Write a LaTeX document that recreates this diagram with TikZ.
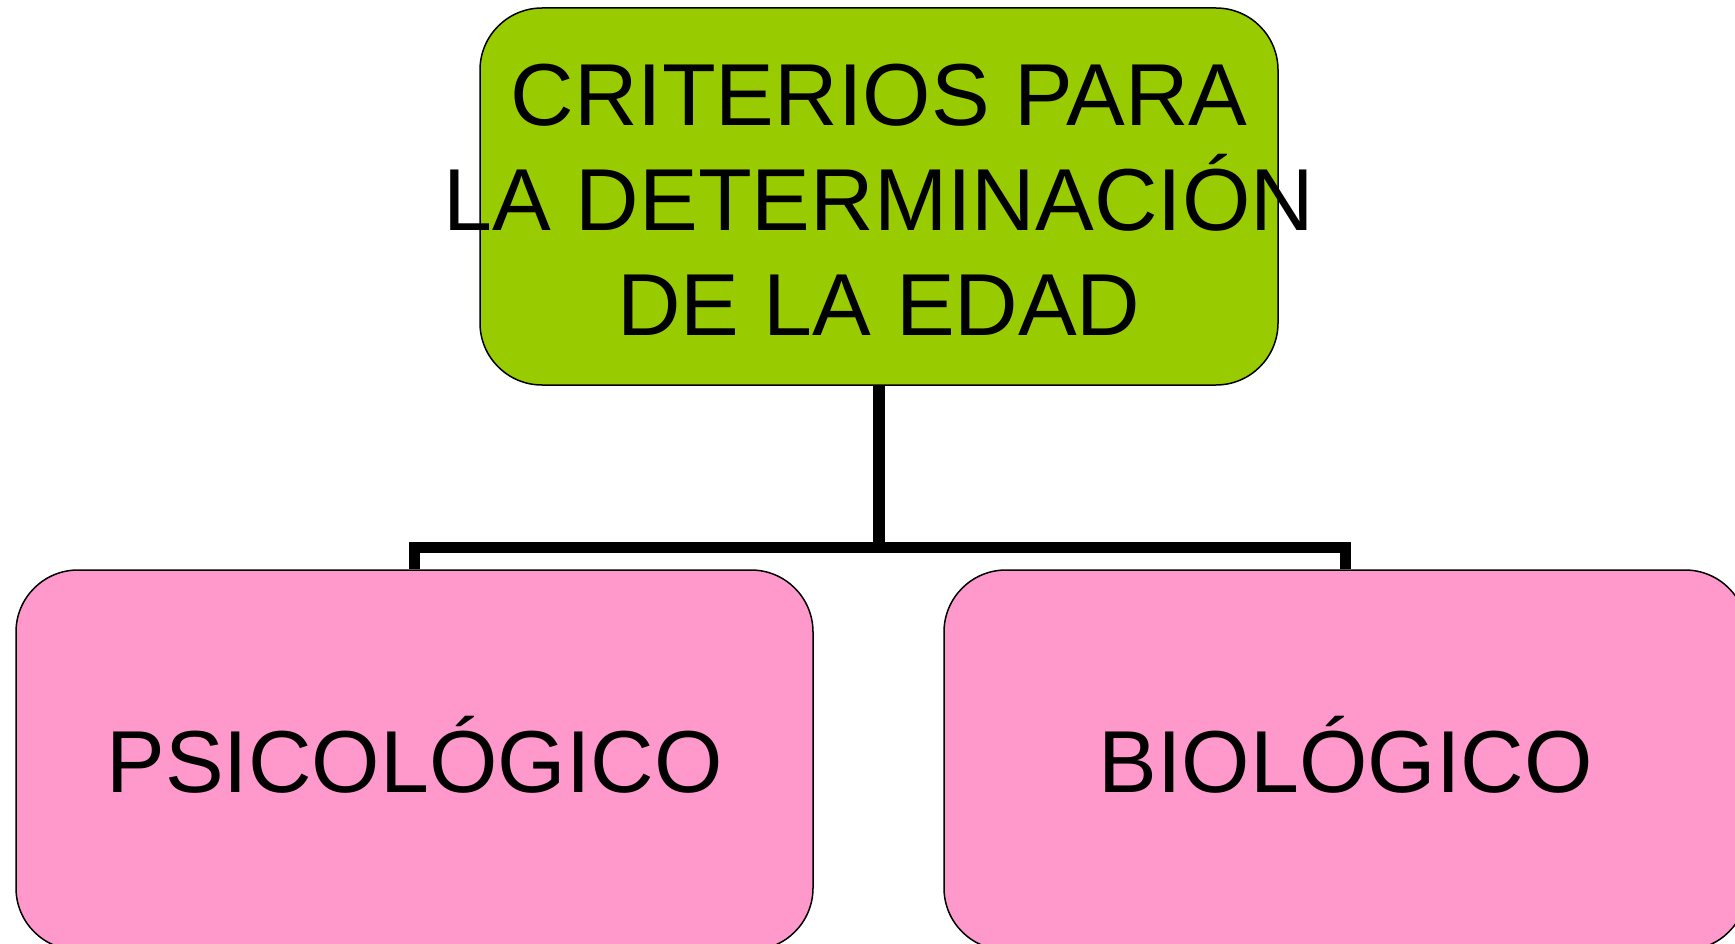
\documentclass[tikz,border=0pt]{standalone}
\usepackage{fontspec}
\setmainfont{Liberation Sans}
\definecolor{boxgreen}{HTML}{99CC00}
\definecolor{boxpink}{HTML}{FF99CC}
\begin{document}
\begin{tikzpicture}[x=1pt,y=-1pt,
  box/.style={draw=black,line width=1.5pt,rounded corners=62pt,inner sep=0pt},
  label/.style={font=\fontsize{88}{105}\selectfont,align=center,inner sep=0pt,text=black},
  conn/.style={draw=black,line width=11.7pt,line join=miter}]
\useasboundingbox (0,0) rectangle (1735,944);
\coordinate (mid) at (879,547.5);
\node[box,fill=boxgreen,minimum width=798pt,minimum height=377pt] (top) at (879,196.5) {};
\node[box,fill=boxpink,minimum width=797pt,minimum height=380pt] (left) at (414.5,760) {};
\node[box,fill=boxpink,minimum width=803pt,minimum height=380pt] (right) at (1345.5,760) {};
\draw[conn] (top.south) -- (top.south |- mid);
\draw[conn] (left.north) -- (left.north |- mid) -- (right.north |- mid) -- (right.north);
\node[label,yshift=-3pt] (toptext) at (top.center) {CRITERIOS PARA\\LA DETERMINACIÓN\\DE LA EDAD};
\node[label,anchor=base,yshift=-32pt] (lefttext) at (left.center) {PSICOLÓGICO};
\node[label,anchor=base,yshift=-32pt] (righttext) at (right.center) {BIOLÓGICO};
\end{tikzpicture}
\end{document}
